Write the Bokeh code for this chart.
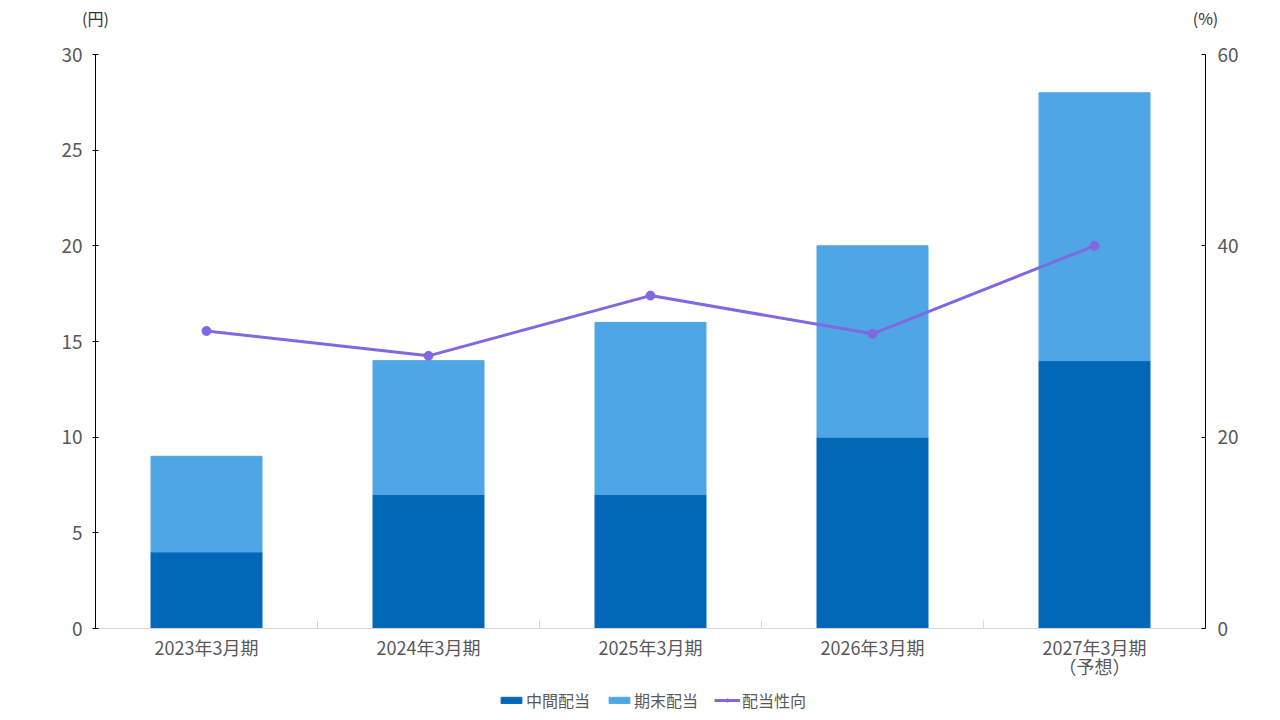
from bokeh.plotting import figure
from bokeh.layouts import column
from bokeh.models import (Range1d, LinearAxis, FixedTicker, Legend, LegendItem,
                          ColumnDataSource)
from bokeh.embed import file_html
from bokeh.resources import INLINE

categories = ["2023年3月期", "2024年3月期", "2025年3月期", "2026年3月期", "2027年3月期"]
category_notes = ["", "", "", "", "（予想）"]
interim = [4, 7, 7, 10, 14]
year_end = [5, 7, 9, 10, 14]
payout = [31.1, 28.5, 34.8, 30.8, 40.0]
left_ticks = [0, 5, 10, 15, 20, 25, 30]
right_ticks = [0, 20, 40, 60]
unit_left = "(円)"
unit_right = "(%)"
series_names = ["中間配当", "期末配当", "配当性向"]

FONT = "Noto Sans CJK JP"
GRAY = "#595959"
C1 = "#0068B7"
C2 = "#4FA6E4"
C3 = "#8068E0"

n = len(categories)
xs = [i + 0.5 for i in range(n)]
totals = [a + b for a, b in zip(interim, year_end)]
src = ColumnDataSource(dict(x=xs, interim=interim, year_end=year_end, total=totals, payout=payout))

p = figure(frame_width=1110, frame_height=574, min_border_left=95, min_border_right=75,
           min_border_top=54, min_border_bottom=57, output_backend="svg",
           toolbar_location=None, x_range=Range1d(0, n), y_range=Range1d(0, 30))
p.outline_line_color = None
p.background_fill_color = "white"
p.border_fill_color = "white"
p.grid.grid_line_color = None

p.extra_y_ranges = {"pct": Range1d(0, 60)}

p.vbar(x="x", bottom=0, top="interim", width=0.5, color=C1, source=src)
p.vbar(x="x", bottom="interim", top="total", width=0.5, color=C2, source=src)
p.line(x="x", y="payout", line_color=C3, line_width=3, y_range_name="pct", source=src)
p.scatter(x="x", y="payout", size=9, color=C3, y_range_name="pct", source=src)

# x axis
xa = p.xaxis[0]
xa.ticker = FixedTicker(ticks=xs, minor_ticks=list(range(1, n)))
xa.major_label_overrides = {x: c for x, c in zip(xs, categories)}
xa.major_tick_line_color = None
xa.major_tick_out = 0
xa.major_tick_in = 0
xa.minor_tick_line_color = "#D9D9D9"
xa.minor_tick_in = 8
xa.minor_tick_out = 0
xa.axis_line_color = "#D9D9D9"
xa.major_label_text_font = FONT
xa.major_label_text_font_size = "18px"
xa.major_label_text_color = GRAY
xa.major_label_standoff = 5

# second line of category labels
note_x = [x for x, t in zip(xs, category_notes) if t]
xa2 = LinearAxis(ticker=FixedTicker(ticks=note_x),
                 major_label_overrides={x: t for x, t in zip(xs, category_notes) if t})
xa2.axis_line_color = None
xa2.major_tick_line_color = None
xa2.major_tick_out = 0
xa2.major_tick_in = 0
xa2.minor_tick_line_color = None
xa2.minor_tick_out = 0
xa2.major_label_text_font = FONT
xa2.major_label_text_font_size = "18px"
xa2.major_label_text_color = GRAY
xa2.major_label_standoff = -10
p.add_layout(xa2, "below")

# left axis
ya = p.yaxis[0]
ya.ticker = FixedTicker(ticks=left_ticks)
ya.axis_line_color = "black"
ya.major_tick_line_color = "black"
ya.major_tick_in = 3
ya.major_tick_out = 3
ya.minor_tick_line_color = None
ya.major_label_text_font = FONT
ya.major_label_text_font_size = "19px"
ya.major_label_text_color = GRAY
ya.major_label_standoff = 10

# right axis
ra = LinearAxis(y_range_name="pct", ticker=FixedTicker(ticks=right_ticks))
ra.axis_line_color = "black"
ra.major_tick_line_color = "black"
ra.major_tick_in = 4
ra.major_tick_out = 0
ra.minor_tick_line_color = None
ra.major_label_text_font = FONT
ra.major_label_text_font_size = "19px"
ra.major_label_text_color = GRAY
ra.major_label_standoff = 12
p.add_layout(ra, "right")

# unit labels as a bare axis above the frame
ua = LinearAxis(ticker=FixedTicker(ticks=[0, n]),
                major_label_overrides={0: unit_left, n: unit_right})
ua.axis_line_color = None
ua.major_tick_line_color = None
ua.major_tick_out = 0
ua.major_tick_in = 0
ua.minor_tick_line_color = None
ua.minor_tick_out = 0
ua.major_label_text_font = FONT
ua.major_label_text_font_size = "16px"
ua.major_label_text_color = "#333333"
ua.major_label_standoff = 25
p.add_layout(ua, "above")

# legend strip below the chart (series renderers kept out of this strip's view)
lf = figure(width=1280, height=32, min_border=0, output_backend="svg", toolbar_location=None,
            x_axis_location=None, y_axis_location=None,
            x_range=Range1d(1000, 1001), y_range=Range1d(1000, 1001))
lf.outline_line_color = None
lf.grid.grid_line_color = None
lf.border_fill_color = "white"
l1 = lf.vbar(x="x", top="interim", width=0.5, color=C1, source=src)
l2 = lf.vbar(x="x", bottom="interim", top="total", width=0.5, color=C2, source=src)
l3 = lf.line(x="x", y="payout", line_color=C3, line_width=3, source=src)
l4 = lf.scatter(x="x", y="payout", size=8, color=C3, source=src)

legend = Legend(items=[
    LegendItem(label=series_names[0], renderers=[l1]),
    LegendItem(label=series_names[1], renderers=[l2]),
    LegendItem(label=series_names[2], renderers=[l3, l4]),
], orientation="horizontal", location=(403, 5))
legend.label_text_font = FONT
legend.label_text_font_size = "16px"
legend.label_text_color = GRAY
legend.glyph_width = 26
legend.glyph_height = 8
legend.label_standoff = 2
legend.spacing = 16
legend.border_line_color = None
legend.background_fill_alpha = 0
legend.padding = 0
legend.margin = 0
lf.add_layout(legend, "center")

layout = column(p, lf, spacing=0)
open("out.html", "w").write(file_html(layout, INLINE))
